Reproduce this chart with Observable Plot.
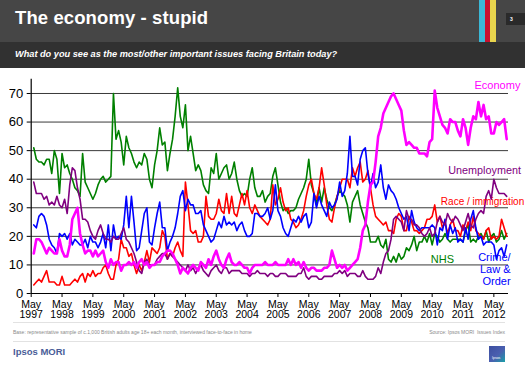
<!DOCTYPE html>
<html>
<head>
<meta charset="utf-8">
<script src="https://cdn.jsdelivr.net/npm/d3@7"></script>
<script src="https://cdn.jsdelivr.net/npm/@observablehq/plot@0.6"></script>
<style>
  html, body { margin: 0; padding: 0; background: #fff; }
  #page { position: relative; width: 525px; height: 365px; overflow: hidden; font-family: "Liberation Sans", Arial, sans-serif; }
  .abs { position: absolute; }
  #topbar { left: 0; top: 0; width: 525px; height: 42px; background: #464646; }
  #subbar { left: 0; top: 42px; width: 525px; height: 26px; background: #313131; }
  #title { left: 15px; top: 9px; color: #fff; font-weight: bold; font-size: 18.5px; line-height: 18.5px; white-space: nowrap; letter-spacing: 0.1px; }
  #subtitle { left: 15px; top: 49.5px; color: #fff; font-weight: bold; font-style: italic; font-size: 9.2px; line-height: 9.2px; white-space: nowrap; }
  .stripe { top: 0; height: 42px; }
  #pagebox { left: 506px; top: 13px; width: 19px; height: 12px; background: #2a2a2a; color: #fff; font-size: 5px; line-height: 12px; text-indent: 4px; font-weight: bold; }
  #chart { left: 0; top: 70px; }
  .sep { left: 13px; width: 492px; height: 1px; background: #e2e2e2; }
  .foot { color: #8a8a8a; font-size: 5px; line-height: 5px; white-space: nowrap; top: 330px; }
  #brand { left: 13px; top: 347px; color: #4a5d98; font-weight: bold; font-size: 9.5px; line-height: 9.5px; white-space: nowrap; }
  #logo { left: 489px; top: 346px; width: 16px; height: 16px; background: linear-gradient(135deg, #3c4fa0 0%, #4a5fb0 55%, #1aa0a8 100%); color: #fff; font-size: 3.5px; line-height: 3.5px; }
</style>
</head>
<body>
<div id="page">
  <div id="topbar" class="abs"></div>
  <div id="subbar" class="abs"></div>
  <div class="abs stripe" style="left:479px;width:6px;background:#3bb7d6"></div>
  <div class="abs stripe" style="left:485px;width:5px;background:#c8102e"></div>
  <div class="abs stripe" style="left:490px;width:5.5px;background:#e8d44d"></div>
  <div id="pagebox" class="abs">3</div>
  <div id="title" class="abs">The economy - stupid</div>
  <div id="subtitle" class="abs">What do you see as the most/other important issues facing Britain today?</div>
  <div id="chart" class="abs"></div>
  <div class="abs sep" style="top:322px"></div>
  <div class="abs foot" style="left:13px">Base: representative sample of c.1,000 British adults age 18+ each month, interviewed face-to-face in home</div>
  <div class="abs foot" style="right:20px">Source: Ipsos MORI&nbsp; Issues Index</div>
  <div class="abs sep" style="top:341px"></div>
  <div id="brand" class="abs">Ipsos MORI</div>
  <div id="logo" class="abs"><div style="position:absolute;left:3px;top:11px">Ipsos</div></div>
</div>
<script>
// Monthly readings, first value = month 1 (just after the May 1997 tick)
const economy = [14,19,19,18,16,14,16,15,14,14, 19,15,13,13,17,26,28,30,21,17,
  14,15,15,13,15,13,14,15,11,9, 12,10,11,11,8,10,10,11,10,11,
  9,11,12,10,11,9,10,10,11,11, 13,14,15,15,14,12,10,7,9,8,
  7,9,10,9,8,11,10,9,12,10, 13,15,12,10,9,12,14,11,10,10,
  11,10,9,9,7,9,10,10,10,10, 11,10,10,
  10,11,10,10,10,10,12,
  10,12,10,11,9,11,9,8,9,9, 8,8,8,9,9,10,15,12,9,10,
  9,10,8,9,10,11,12,16,22,24, 32,38,39,46,55,58,63,65,67,69,
  70,68,66,64,57,52,53,52,51,51, 49,49,49,48,53,54,71,65,62,59,
  58,56,61,60,60,57,55,61,58,52, 58,62,61,67,62,66,61,62,56,56,
  60,59,60,61,54];
const unemployment = [39,35,35,35,33,34,31,32,31,34, 31,30,33,28,38,44,43,37,33,26,
  26,25,22,20,19,22,24,21,19,19, 18,20,19,19,21,23,19,18,16,14,
  11,8,7,11,12,10,10,10,12,13, 14,14,12,14,13,12,11,10,9,8,
  10,8,9,7,9,10,8,7,6,8, 9,10,8,7,9,9,7,8,8,8,
  8,7,7,7,6,7,7,8,7,7, 7,6,7,
  7,6,6,7,7,7,6,
  6,6,6,7,7,9,6,5,6,6, 6,5,5,6,6,6,6,7,7,8,
  7,8,6,7,7,7,6,6,8,6, 5,5,5,6,9,7,11,14,15,19,
  26,27,26,25,22,29,26,26,24,24, 23,21,20,21,23,20,21,25,27,25,
  24,28,26,25,27,26,24,22,25,28, 24,23,26,28,29,28,34,36,33,40,
  37,35,35,35,34];
const raceImmigration = [3,4,5,4,6,8,4,4,4,3, 3,6,3,3,3,4,5,4,6,7,
  4,7,6,8,6,7,7,9,10,7, 5,5,10,12,19,16,16,13,14,10,
  7,10,8,11,15,11,16,15,14,16, 22,20,12,14,13,16,18,15,13,39,
  31,22,21,22,18,18,20,34,27,26, 26,28,33,29,28,35,28,34,28,27,
  31,35,31,36,30,28,31,29,27,26, 25,24,26,
  38,31,33,37,32,29,30,
  26,25,23,24,26,29,34,38,40,35, 33,37,44,38,31,26,25,30,34,37,
  40,40,40,37,44,41,44,46,39,40, 43,37,31,27,26,25,24,25,22,22,
  21,26,28,27,22,22,27,25,22,22, 21,22,23,26,26,27,31,25,27,23,
  25,21,24,26,22,22,20,24,22,25, 22,27,22,21,20,19,22,23,19,20,
  19,20,26,23,20];
const nhs = [51,47,46,46,45,47,47,42,50,47, 35,49,44,45,42,40,37,36,34,49,
  39,37,35,33,35,38,40,41,39,40, 41,70,54,57,53,45,55,51,49,46,
  44,46,45,49,47,40,37,45,50,58, 52,53,43,49,54,62,72,62,58,66,
  50,55,49,43,45,43,38,36,35,44, 42,49,40,42,44,45,40,42,46,40,
  36,34,35,34,40,44,37,34,34,36, 32,34,35,
  41,44,38,32,29,30,28,
  29,29,30,33,35,37,40,47,38,35, 31,37,32,37,33,30,29,31,34,36,
  35,34,31,25,32,34,36,31,28,25, 23,18,18,18,20,17,16,19,12,11,
  13,11,14,12,13,16,15,17,20,15, 18,18,20,18,21,17,21,20,18,19,
  21,19,18,19,19,19,19,18,22,24, 18,19,18,20,21,19,22,18,20,21,
  18,19,22,19,21];
const crime = [24,23,27,28,27,24,19,17,16,14, 21,20,21,19,21,17,19,18,17,17,
  19,16,20,18,18,16,18,21,16,24, 15,24,19,20,19,24,34,23,34,25,
  15,16,22,28,30,18,17,23,28,32, 23,23,15,18,20,23,28,34,36,29,
  33,31,31,28,28,29,24,22,20,18, 19,22,25,23,27,24,25,24,25,22,
  24,25,22,20,20,21,28,28,27,27, 28,30,26,
  29,38,29,27,23,21,20,
  23,26,25,27,25,27,28,23,25,35, 30,34,31,29,27,32,30,31,33,39,
  34,36,42,55,41,41,38,47,50,51, 42,37,42,37,39,45,37,33,38,36,
  35,33,30,28,26,27,22,29,25,23, 22,23,23,23,23,24,23,17,23,22,
  26,19,24,21,23,18,19,18,23,19, 26,29,23,19,20,17,18,18,18,17,
  12,15,16,13,17];

const tickYears = ["1997","1998","1999","2000","2001","2002","2003","2004","2005","2006","2007","2008","2009","2010","2011","2012"];
const tickMonth = "May";
const yTicks = [0,10,20,30,40,50,60,70];

const seriesNames = ["NHS","Race / immigration","Crime/\nLaw &\nOrder","Unemployment","Economy"];
const seriesColors = ["#008000","#ff0000","#0000ff","#800080","#ff00ff"];
const seriesValues = [nhs, raceImmigration, crime, unemployment, economy];

// label anchor points (month index, value) for the in-chart series labels
const labelMonth = [160, 175.6, 186.5, 176.4, 181.4];
const labelValue = [11.9, 32.2, 8.4, 43, 72.8];
const labelAnchor = ["middle","middle","end","middle","middle"];
const labelSize = [11, 10, 11, 10.8, 11];

const toRows = (vals) => vals.map((v, i) => ({t: i + 1, v}));

const marks = [
  Plot.gridY(yTicks.slice(1), {stroke: "#3a3a3a", strokeOpacity: 1, strokeWidth: 1}),
  Plot.ruleY([0], {stroke: "#000", strokeWidth: 1.2}),
  Plot.ruleX([0], {stroke: "#000", strokeWidth: 1.2}),
  Plot.axisY({ticks: yTicks, tickSize: 4, tickPadding: 4, fontSize: 13, color: "#000", label: null}),
  Plot.axisX({ticks: tickYears.map((y, i) => i * 12), tickFormat: (d) => tickMonth + "\n" + tickYears[Math.round(d / 12)],
    tickSize: 4, tickPadding: 3, fontSize: 10.5, color: "#000", label: null, lineHeight: 1})
];
seriesValues.forEach((vals, k) => {
  marks.push(Plot.line(toRows(vals), {x: "t", y: "v", stroke: seriesColors[k],
    strokeWidth: k === 4 ? 2.6 : 1.6, strokeLinejoin: "round"}));
});
seriesNames.forEach((name, k) => {
  marks.push(Plot.text([{t: labelMonth[k], v: labelValue[k], name}], {x: "t", y: "v", text: "name",
    fill: seriesColors[k], fontSize: labelSize[k], textAnchor: labelAnchor[k], lineHeight: 1.1}));
});

const chart = Plot.plot({
  width: 525,
  height: 252,
  marginLeft: 30.7,
  marginRight: 17,
  marginTop: 8.7,
  marginBottom: 29,
  style: {fontFamily: "'Liberation Sans', Arial, sans-serif", background: "transparent", overflow: "visible"},
  x: {domain: [0, 185.7]},
  y: {domain: [0, 75]},
  marks
});
document.getElementById("chart").appendChild(chart);
</script>
</body>
</html>
